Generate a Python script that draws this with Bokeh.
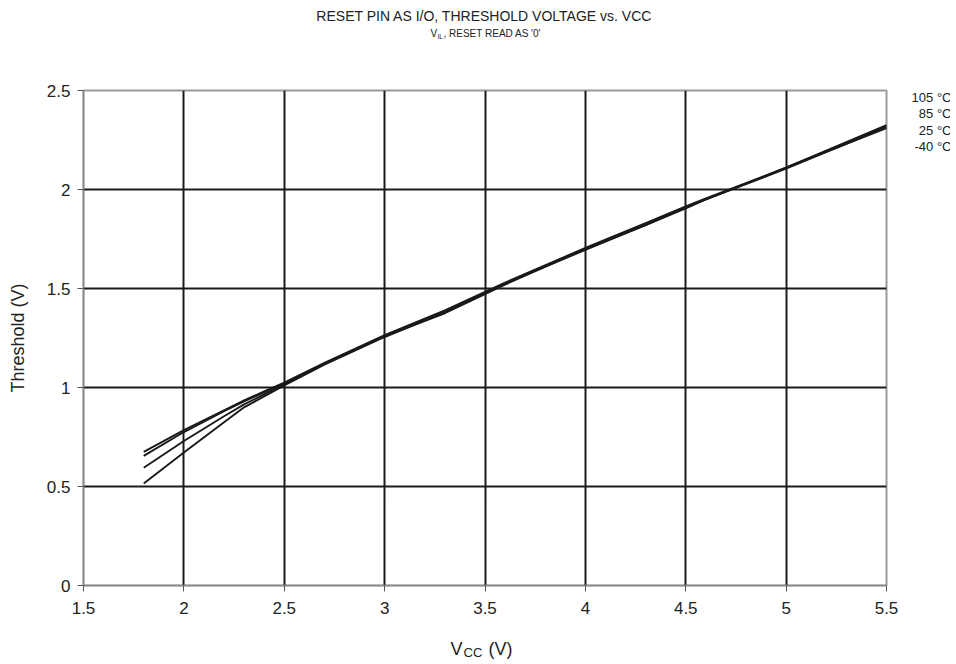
from bokeh.plotting import figure
from bokeh.models import Label, SingleIntervalTicker, Range1d
from bokeh.embed import file_html
from bokeh.resources import INLINE

# ---- data ----
vcc = [1.8, 2.0, 2.2, 2.3, 2.4, 2.5, 2.7, 3.0, 3.3, 3.6, 4.0, 4.3, 4.5, 4.6, 5.0, 5.5]
th_105 = [0.515, 0.672, 0.825, 0.900, 0.955, 1.010, 1.115, 1.255, 1.380, 1.525, 1.695, 1.820, 1.910, 1.950, 2.110, 2.325]
th_85 = [0.595, 0.730, 0.855, 0.915, 0.965, 1.015, 1.120, 1.260, 1.375, 1.520, 1.700, 1.820, 1.905, 1.950, 2.110, 2.320]
th_25 = [0.655, 0.775, 0.880, 0.930, 0.975, 1.020, 1.120, 1.260, 1.385, 1.525, 1.700, 1.825, 1.910, 1.950, 2.105, 2.315]
th_m40 = [0.675, 0.785, 0.885, 0.935, 0.980, 1.025, 1.125, 1.265, 1.390, 1.530, 1.705, 1.830, 1.915, 1.955, 2.110, 2.310]
series_labels = ["105 °C", "85 °C", "25 °C", "-40 °C"]
x_ticks = [1.5, 2, 2.5, 3, 3.5, 4, 4.5, 5, 5.5]
y_ticks = [0, 0.5, 1, 1.5, 2, 2.5]

FONT = "Liberation Sans"
X0, X1, Y0, Y1 = 1.5, 5.5, 0.0, 2.5
W, H = 950, 660
BL, BT = 83, 90
FW, FH = 803, 495
BR, BB = W - BL - FW, H - BT - FH

p = figure(width=W, height=H, output_backend="svg", toolbar_location=None,
           x_range=Range1d(X0, X1), y_range=Range1d(Y0, Y1),
           min_border_left=BL, min_border_right=BR, min_border_top=BT, min_border_bottom=BB)
p.background_fill_color = "white"
p.border_fill_color = "white"
p.outline_line_color = "#9a9a9a"
p.outline_line_width = 2

for ys in (th_105, th_85, th_25, th_m40):
    p.line(vcc, ys, line_color="#1a1a1a", line_width=1.9)

p.xaxis.ticker = SingleIntervalTicker(interval=0.5)
p.yaxis.ticker = SingleIntervalTicker(interval=0.5)
p.xaxis.major_label_overrides = {float(t): f"{t:g}" for t in x_ticks}
p.yaxis.major_label_overrides = {float(t): f"{t:g}" for t in y_ticks}
for ax in (p.xaxis, p.yaxis):
    ax.axis_line_color = "#8a8a8a"
    ax.axis_line_width = 1.5
    ax.major_tick_line_color = "#555555"
    ax.major_tick_in = 0
    ax.major_tick_out = 6
    ax.minor_tick_line_color = None
    ax.major_label_text_font = FONT
    ax.major_label_text_font_size = "17px"
    ax.major_label_text_color = "#222222"
    ax.major_label_standoff = 7
p.xaxis.major_label_standoff = 10
p.yaxis.axis_label = "Threshold (V)"
p.yaxis.axis_label_text_font = FONT
p.yaxis.axis_label_text_font_size = "18px"
p.yaxis.axis_label_text_font_style = "normal"
p.yaxis.axis_label_text_color = "#222222"
p.yaxis.axis_label_standoff = 16

p.xgrid.grid_line_color = "#1a1a1a"
p.ygrid.grid_line_color = "#1a1a1a"
p.xgrid.grid_line_width = 2
p.ygrid.grid_line_width = 2


def lab(text, px, py, size, side, align="left", baseline="middle", line_height=1.2):
    # positioned in canvas pixels; placed in a side panel so it is not clipped to the frame
    p.add_layout(Label(x=px, y=py, x_units="canvas", y_units="canvas", text=text,
                       text_font=FONT, text_font_size=size, text_color="#222222",
                       text_align=align, text_baseline=baseline,
                       text_line_height=line_height), side)


# main title
lab("RESET PIN AS I/O, THRESHOLD VOLTAGE vs. VCC", 484, 15, "14px", "above", align="center")
# subtitle with subscript
lab("V", 430, 33, "10px", "below")
lab("IL", 437, 36, "6.5px", "below")
lab(", RESET READ AS '0'", 443, 33, "10px", "below")

# x axis title with subscript
lab("V", 450, 648, "18px", "above")
lab("CC", 463, 652, "13px", "above")
lab("(V)", 488, 648, "18px", "above")

# series labels at right (one right-aligned block)
lab("\n".join(series_labels), 951, 89, "13px", "right", align="right", baseline="top",
    line_height=1.1)

open("out.html", "w").write(file_html(p, INLINE))
